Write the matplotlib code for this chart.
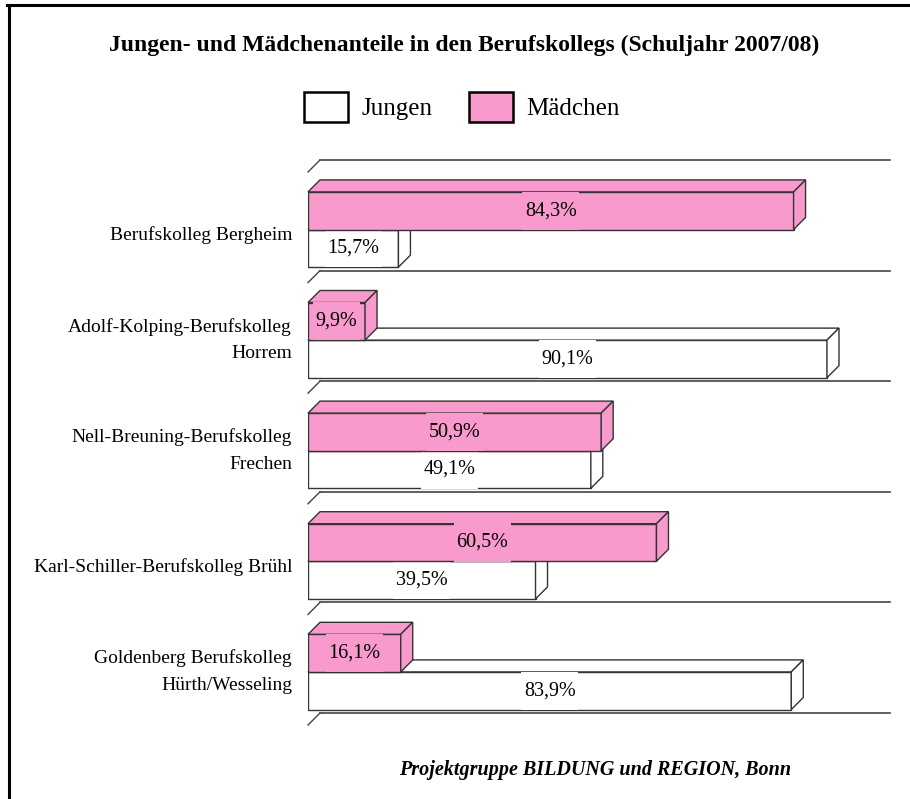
import numpy as np
import matplotlib
matplotlib.use("Agg")
import matplotlib.pyplot as plt
from matplotlib.patches import Polygon, Patch
from matplotlib.lines import Line2D
from matplotlib.path import Path
from matplotlib.transforms import offset_copy

plt.rcParams['font.family'] = ['Liberation Serif', 'DejaVu Serif']

schools = [
    "Berufskolleg Bergheim",
    "Adolf-Kolping-Berufskolleg\nHorrem",
    "Nell-Breuning-Berufskolleg\nFrechen",
    "Karl-Schiller-Berufskolleg Brühl",
    "Goldenberg Berufskolleg\nHürth/Wesseling",
]
maedchen = [84.3, 9.9, 50.9, 60.5, 16.1]
jungen = [15.7, 90.1, 49.1, 39.5, 83.9]

PINK = '#f89bcc'
EDGE = '#333333'
W, H = 910, 799

fig = plt.figure(figsize=(W / 100, H / 100), dpi=100)
# plot area: x 0..100 % -> px 308..884, bands from px 172 to 725
ax = fig.add_axes([308 / W, 1 - 725 / H, 576 / W, 553 / H])
ax.set_xlim(0, 100)
ax.set_ylim(len(schools), 0)
for s in ax.spines.values():
    s.set_visible(False)
ax.set_xticks([])
ax.set_yticks([])

# depth of the fake 3D effect (12 px right, 12 px up)
dx = 12 / 5.76
dy = 12 / 110.6
bh = 0.34
y = np.arange(len(schools))


def label_box(x0, y0, width, height, mutation_size):
    px = 0.12 * mutation_size
    py = 0.48 * mutation_size
    return Path([(x0 - px, y0 - py), (x0 + width + px, y0 - py),
                 (x0 + width + px, y0 + height + py), (x0 - px, y0 + height + py),
                 (x0 - px, y0 - py)], closed=True)


# back wall grid lines with the little diagonals at the left
for k in range(len(schools) + 1):
    ax.plot([dx, 100 + dx * 0.5], [k - dy, k - dy], color='#444444', lw=1.2,
            clip_on=False, zorder=1)
    ax.plot([0, dx], [k, k - dy], color='#444444', lw=1.0, clip_on=False, zorder=1)


def bars3d(vals, centers, color, z):
    ax.barh(centers, vals, height=bh, color=color, edgecolor=EDGE, lw=1.0, zorder=z)
    for v, c in zip(vals, centers):
        yt, yb = c - bh / 2, c + bh / 2
        top = [(0, yt), (dx, yt - dy), (v + dx, yt - dy), (v, yt)]
        side = [(v, yt), (v + dx, yt - dy), (v + dx, yb - dy), (v, yb)]
        for pts in (top, side):
            ax.add_patch(Polygon(pts, closed=True, facecolor=color, edgecolor=EDGE,
                                 lw=1.0, zorder=z, clip_on=False))
        ax.text(v / 2, c, f"{v:.1f}".replace('.', ',') + '%', ha='center', va='center',
                fontsize=14.5, zorder=z + 0.5,
                bbox=dict(boxstyle=label_box, facecolor=color, edgecolor='none'))


bars3d(jungen, y + 0.69, 'white', 3)
bars3d(maedchen, y + 0.35, PINK, 4)

# category names, right aligned 16 px left of the bars
lab_tr = offset_copy(ax.get_yaxis_transform(), fig=fig, x=-16, units='dots')
for i, name in enumerate(schools):
    yy = i + (0.52 if '\n' in name else 0.57)
    ax.text(0, yy, name, transform=lab_tr, ha='right', va='center',
            multialignment='right', linespacing=1.75, fontsize=14)

fig.text(464 / W, 1 - 45 / H,
         "Jungen- und Mädchenanteile in den Berufskollegs (Schuljahr 2007/08)",
         ha='center', va='center', fontsize=17, fontweight='bold')

handles = [Patch(facecolor='white', edgecolor='black', lw=1.8),
           Patch(facecolor=PINK, edgecolor='black', lw=1.8)]
fig.legend(handles, ['Jungen', 'Mädchen'], loc='center',
           bbox_to_anchor=(462 / W, 1 - 107 / H), ncol=2, frameon=False,
           fontsize=18, handlelength=1.76, handleheight=1.41, handletextpad=0.52,
           columnspacing=1.48)

fig.text(595 / W, 1 - 770 / H, "Projektgruppe BILDUNG und REGION, Bonn",
         ha='center', va='center', fontsize=14.5, fontweight='bold', fontstyle='italic')

# frame (left and top edges only are visible)
fig.add_artist(Line2D([8.5 / W, 8.5 / W], [0, 1 - 5 / H], color='black', lw=2.2))
fig.add_artist(Line2D([7 / W, 1], [1 - 5 / H, 1 - 5 / H], color='black', lw=2.2))

fig.savefig('out.png', dpi=100)
